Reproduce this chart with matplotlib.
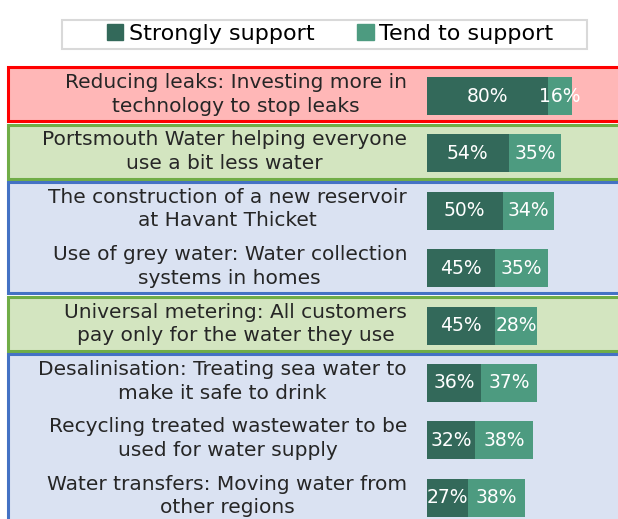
import matplotlib.pyplot as plt
from matplotlib.patches import Rectangle

# ---------------- data ----------------
labels = [
    "Reducing leaks: Investing more in\ntechnology to stop leaks",
    "Portsmouth Water helping everyone\nuse a bit less water",
    "The construction of a new reservoir\nat Havant Thicket",
    "Use of grey water: Water collection\nsystems in homes",
    "Universal metering: All customers\npay only for the water they use",
    "Desalinisation: Treating sea water to\nmake it safe to drink",
    "Recycling treated wastewater to be\nused for water supply",
    "Water transfers: Moving water from\nother regions",
]
strongly = [80, 54, 50, 45, 45, 36, 32, 27]
tend = [16, 35, 34, 35, 28, 37, 38, 38]
series_names = ["Strongly support", "Tend to support"]

# groups of rows with a coloured box behind: (first row, last row, edge, face)
groups = [
    (0, 0, "#FF0000", "#FFB7B7"),
    (1, 1, "#70AD47", "#D3E5C0"),
    (2, 3, "#4472C4", "#DAE2F2"),
    (4, 4, "#70AD47", "#D3E5C0"),
    (5, 7, "#4472C4", "#DAE2F2"),
]

c_dark = "#33695A"
c_light = "#4D9B80"
FONT = "DejaVu Sans"

# ---------------- layout ----------------
W, H, DPI = 6.18, 5.19, 100
px_per_pct = 1.51
bar_x0 = 427          # px where 0% sits
row_px = 57.4         # px between rows
row0_px = 96          # px of first row centre from top

fig = plt.figure(figsize=(W, H), dpi=DPI)
ax = fig.add_axes([0, 0, 1, 1])
ax.set_xlim(-bar_x0 / px_per_pct, (W * DPI - bar_x0) / px_per_pct)
ax.set_ylim((H * DPI - row0_px) / row_px, -row0_px / row_px)
ax.axis("off")

x_left = (8 - bar_x0) / px_per_pct
x_right = ax.get_xlim()[1] + 5
for a, b, ec, fc in groups:
    y0 = a - 0.5
    h = (b - a + 1) - 0.06
    if b == len(labels) - 1:
        h += 1.0
    ax.add_patch(Rectangle((x_left, y0), x_right - x_left, h,
                           facecolor=fc, edgecolor=ec, linewidth=2.2, zorder=0))

ys = list(range(len(labels)))
ax.barh(ys, strongly, height=0.66, color=c_dark, zorder=2)
ax.barh(ys, tend, left=strongly, height=0.66, color=c_light, zorder=2)

for i in ys:
    ax.text(strongly[i] / 2, i, f"{strongly[i]}%", color="white", ha="center",
            va="center", fontsize=13.5, family=FONT, zorder=3)
    ax.text(strongly[i] + tend[i] / 2, i, f"{tend[i]}%", color="white", ha="center",
            va="center", fontsize=13.5, family=FONT, zorder=3)
    ax.text((407 - bar_x0) / px_per_pct, i - 0.03, labels[i], ha="right", va="center",
            multialignment="center", fontsize=14.5, family=FONT, color="#262626",
            linespacing=1.3, zorder=3)

# legend: frame drawn separately so the padding matches
fig.patches.append(Rectangle((62 / 618, 1 - 49 / 519), 525 / 618, 29 / 519,
                             transform=fig.transFigure, facecolor="white",
                             edgecolor="#D9D9D9", linewidth=1.5, zorder=0))
handles = [Rectangle((0, 0), 1, 1, color=c_dark), Rectangle((0, 0), 1, 1, color=c_light)]
fig.legend(handles, series_names, loc="center", bbox_to_anchor=(330 / 618, 1 - 34 / 519),
           ncol=2, frameon=False, handlelength=0.75, handleheight=0.75,
           handletextpad=0.25, columnspacing=1.9, borderpad=0.2,
           prop={"family": FONT, "size": 16})

fig.savefig("out.png", dpi=DPI)
